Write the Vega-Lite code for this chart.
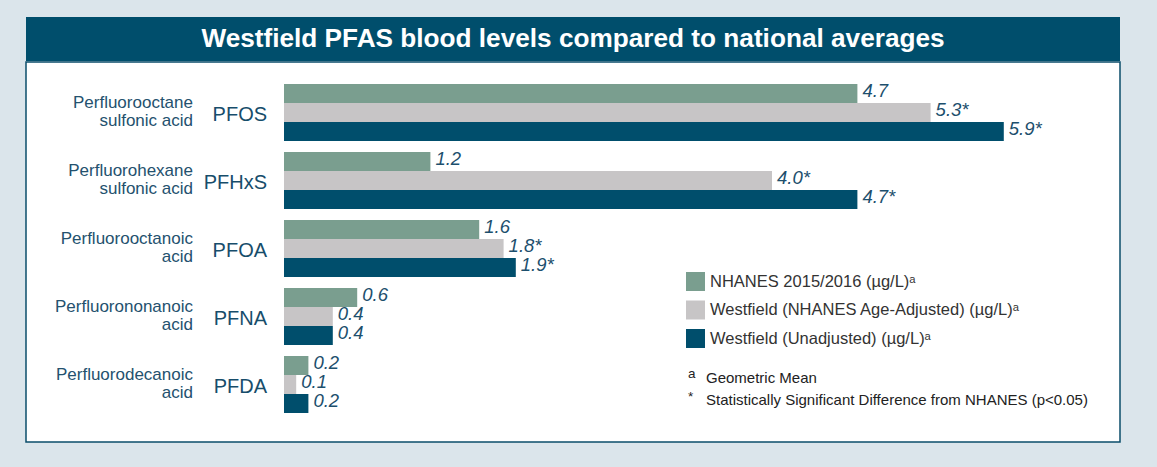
{
  "$schema": "https://vega.github.io/schema/vega-lite/v6.json",
  "background": "#dbe5eb",
  "padding": {"left": 25, "top": 17, "right": 38, "bottom": 26},
  "config": {"font": "Liberation Sans", "view": {"stroke": null}},
  "spacing": 0,
  "datasets": {
    "bars": [
      {"chem": "PFOS", "series": "NHANES 2015/2016 (µg/L)ᵃ", "value": 4.7, "label": "4.7"},
      {"chem": "PFOS", "series": "Westfield (NHANES Age-Adjusted) (µg/L)ᵃ", "value": 5.3, "label": "5.3*"},
      {"chem": "PFOS", "series": "Westfield (Unadjusted) (µg/L)ᵃ", "value": 5.9, "label": "5.9*"},
      {"chem": "PFHxS", "series": "NHANES 2015/2016 (µg/L)ᵃ", "value": 1.2, "label": "1.2"},
      {"chem": "PFHxS", "series": "Westfield (NHANES Age-Adjusted) (µg/L)ᵃ", "value": 4.0, "label": "4.0*"},
      {"chem": "PFHxS", "series": "Westfield (Unadjusted) (µg/L)ᵃ", "value": 4.7, "label": "4.7*"},
      {"chem": "PFOA", "series": "NHANES 2015/2016 (µg/L)ᵃ", "value": 1.6, "label": "1.6"},
      {"chem": "PFOA", "series": "Westfield (NHANES Age-Adjusted) (µg/L)ᵃ", "value": 1.8, "label": "1.8*"},
      {"chem": "PFOA", "series": "Westfield (Unadjusted) (µg/L)ᵃ", "value": 1.9, "label": "1.9*"},
      {"chem": "PFNA", "series": "NHANES 2015/2016 (µg/L)ᵃ", "value": 0.6, "label": "0.6"},
      {"chem": "PFNA", "series": "Westfield (NHANES Age-Adjusted) (µg/L)ᵃ", "value": 0.4, "label": "0.4"},
      {"chem": "PFNA", "series": "Westfield (Unadjusted) (µg/L)ᵃ", "value": 0.4, "label": "0.4"},
      {"chem": "PFDA", "series": "NHANES 2015/2016 (µg/L)ᵃ", "value": 0.2, "label": "0.2"},
      {"chem": "PFDA", "series": "Westfield (NHANES Age-Adjusted) (µg/L)ᵃ", "value": 0.1, "label": "0.1"},
      {"chem": "PFDA", "series": "Westfield (Unadjusted) (µg/L)ᵃ", "value": 0.2, "label": "0.2"}
    ],
    "chems": [
      {"chem": "PFOS", "name": "Perfluorooctane\nsulfonic acid"},
      {"chem": "PFHxS", "name": "Perfluorohexane\nsulfonic acid"},
      {"chem": "PFOA", "name": "Perfluorooctanoic\nacid"},
      {"chem": "PFNA", "name": "Perfluorononanoic\nacid"},
      {"chem": "PFDA", "name": "Perfluorodecanoic\nacid"}
    ],
    "notes": [
      {"marks": "a\n*", "notes": "Geometric Mean\nStatistically Significant Difference from NHANES (p<0.05)"}
    ],
    "title": [
      {"title": "Westfield PFAS blood levels compared to national averages"}
    ]
  },
  "vconcat": [
    {
      "width": 1094,
      "height": 44,
      "view": {"fill": "#004e6c", "stroke": null},
      "data": {"name": "title"},
      "mark": {"type": "text", "font": "Liberation Sans", "fontWeight": "bold", "fontSize": 26.2, "color": "#ffffff", "baseline": "middle", "align": "center"},
      "encoding": {
        "x": {"field": "title", "type": "nominal", "axis": null},
        "y": {"field": "title", "type": "nominal", "axis": null},
        "text": {"field": "title"}
      }
    },
    {
      "width": 1094,
      "height": 380,
      "view": {"fill": "#ffffff", "stroke": "#0b4d6b", "strokeWidth": 1.5},
      "layer": [
        {
          "data": {"name": "bars"},
          "mark": {"type": "bar"},
          "encoding": {
            "x": {"field": "value", "type": "quantitative", "axis": null, "scale": {"domain": [-2.1148, 6.8525], "nice": false, "zero": false}},
            "y": {"field": "chem", "type": "nominal", "axis": null, "sort": ["PFOS", "PFHxS", "PFOA", "PFNA", "PFDA"], "scale": {"paddingInner": 0.1618, "paddingOuter": 0.375, "align": 0.431}},
            "yOffset": {"field": "series", "type": "nominal", "sort": ["NHANES 2015/2016 (µg/L)ᵃ", "Westfield (NHANES Age-Adjusted) (µg/L)ᵃ", "Westfield (Unadjusted) (µg/L)ᵃ"], "scale": {"paddingInner": 0, "paddingOuter": 0}},
            "color": {
              "field": "series", "type": "nominal",
              "scale": {"domain": ["NHANES 2015/2016 (µg/L)ᵃ", "Westfield (NHANES Age-Adjusted) (µg/L)ᵃ", "Westfield (Unadjusted) (µg/L)ᵃ"], "range": ["#7a9e8f", "#c7c5c6", "#004e6c"]},
              "legend": {"orient": "none", "legendX": 660, "legendY": 255, "title": null, "symbolType": "square", "symbolSize": 361, "symbolStrokeWidth": 0, "symbolOpacity": 1, "labelFont": "Liberation Sans", "labelFontSize": 16.5, "labelColor": "#333333", "labelOffset": 5, "rowPadding": 9.5, "padding": 0, "labelLimit": 500}
            }
          }
        },
        {
          "data": {"name": "bars"},
          "mark": {"type": "text", "align": "left", "baseline": "middle", "dx": 5, "dy": -2, "fontStyle": "italic", "fontSize": 18.5, "color": "#1d4f6d"},
          "encoding": {
            "x": {"field": "value", "type": "quantitative"},
            "y": {"field": "chem", "type": "nominal", "sort": ["PFOS", "PFHxS", "PFOA", "PFNA", "PFDA"]},
            "yOffset": {"field": "series", "type": "nominal", "sort": ["NHANES 2015/2016 (µg/L)ᵃ", "Westfield (NHANES Age-Adjusted) (µg/L)ᵃ", "Westfield (Unadjusted) (µg/L)ᵃ"]},
            "text": {"field": "label"}
          }
        },
        {
          "data": {"name": "chems"},
          "mark": {"type": "text", "align": "right", "baseline": "middle", "dy": 3, "fontSize": 20, "color": "#174d6b"},
          "encoding": {
            "x": {"datum": -0.139, "type": "quantitative"},
            "y": {"field": "chem", "type": "nominal", "sort": ["PFOS", "PFHxS", "PFOA", "PFNA", "PFDA"]},
            "text": {"field": "chem"}
          }
        },
        {
          "data": {"name": "chems"},
          "mark": {"type": "text", "align": "right", "baseline": "middle", "lineBreak": "\n", "lineHeight": 18, "fontSize": 17, "dy": -9, "color": "#24516e"},
          "encoding": {
            "x": {"datum": -0.746, "type": "quantitative"},
            "y": {"field": "chem", "type": "nominal", "sort": ["PFOS", "PFHxS", "PFOA", "PFNA", "PFDA"]},
            "text": {"field": "name"}
          }
        },
        {
          "data": {"name": "notes"},
          "mark": {"type": "text", "align": "left", "baseline": "middle", "lineBreak": "\n", "lineHeight": 22.5, "fontSize": 13.5, "dy": -10, "color": "#222222"},
          "encoding": {
            "x": {"datum": 3.311, "type": "quantitative"},
            "y": {"datum": "PFDA", "type": "nominal"},
            "text": {"field": "marks"}
          }
        },
        {
          "data": {"name": "notes"},
          "mark": {"type": "text", "align": "left", "baseline": "middle", "lineBreak": "\n", "lineHeight": 22.5, "fontSize": 15, "dy": -6.5, "color": "#222222"},
          "encoding": {
            "x": {"datum": 3.459, "type": "quantitative"},
            "y": {"datum": "PFDA", "type": "nominal"},
            "text": {"field": "notes"}
          }
        }
      ]
    }
  ]
}
